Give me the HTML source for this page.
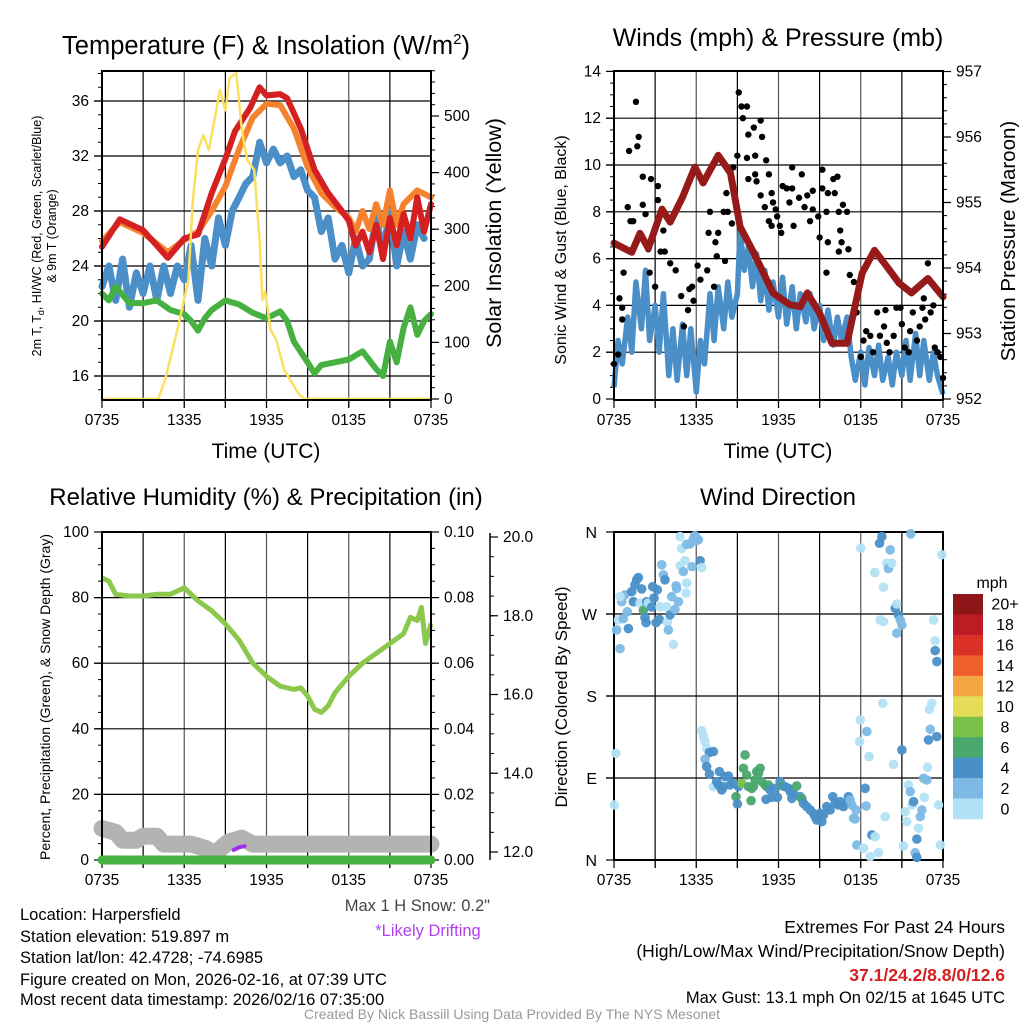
<!DOCTYPE html>
<html><head><meta charset="utf-8"><style>
html,body{margin:0;padding:0;background:#fff;}
svg{display:block;font-family:"Liberation Sans",Arial,sans-serif;}
</style></head><body>
<svg id="root" width="1024" height="1024" viewBox="0 0 1024 1024" xmlns="http://www.w3.org/2000/svg">
<rect width="1024" height="1024" fill="#fff"/>
<g id="layer"></g>
<text x="266" y="54" font-size="25.5" text-anchor="middle">Temperature (F) &amp; Insolation (W/m<tspan font-size="15" dy="-10">2</tspan><tspan dy="10">)</tspan></text>
<text x="778" y="46" font-size="25" text-anchor="middle">Winds (mph) &amp; Pressure (mb)</text>
<text x="266" y="505" font-size="24" text-anchor="middle">Relative Humidity (%) &amp; Precipitation (in)</text>
<text x="778" y="505" font-size="24" text-anchor="middle">Wind Direction</text>
<text x="266" y="458" font-size="21" text-anchor="middle">Time (UTC)</text>
<text x="778" y="458" font-size="21" text-anchor="middle">Time (UTC)</text>
<g font-size="12.5" text-anchor="middle">
<text transform="translate(41,236) rotate(-90)">2m T, T<tspan font-size="9" dy="3">d</tspan><tspan dy="-3">, HI/WC (Red, Green, Scarlet/Blue)</tspan></text>
<text transform="translate(56,236) rotate(-90)">&amp; 9m T (Orange)</text>
</g>
<text transform="translate(501,233) rotate(-90)" font-size="21.5" text-anchor="middle">Solar Insolation (Yellow)</text>
<text transform="translate(566,250) rotate(-90)" font-size="16" text-anchor="middle">Sonic Wind &amp; Gust (Blue, Black)</text>
<text transform="translate(1015,241) rotate(-90)" font-size="20.5" text-anchor="middle">Station Pressure (Maroon)</text>
<text transform="translate(50,697) rotate(-90)" font-size="14" text-anchor="middle">Percent, Precipitation (Green), &amp; Snow Depth (Gray)</text>
<text transform="translate(567,697) rotate(-90)" font-size="17" text-anchor="middle">Direction (Colored By Speed)</text>
<text x="490" y="911" font-size="16.5" fill="#444" text-anchor="end">Max 1 H Snow: 0.2"</text>
<text x="428" y="936" font-size="16.5" fill="#b040f0" text-anchor="middle">*Likely Drifting</text>
<g font-size="16.5">
<text x="20" y="920">Location: Harpersfield</text>
<text x="20" y="942">Station elevation: 519.897 m</text>
<text x="20" y="963">Station lat/lon: 42.4728; -74.6985</text>
<text x="20" y="985">Figure created on Mon, 2026-02-16, at 07:39 UTC</text>
<text x="20" y="1005">Most recent data timestamp: 2026/02/16 07:35:00</text>
</g>
<g font-size="17.5" text-anchor="end">
<text x="1005" y="933">Extremes For Past 24 Hours</text>
<text x="1005" y="957">(High/Low/Max Wind/Precipitation/Snow Depth)</text>
<text x="1005" y="981" fill="#d42020" font-weight="bold">37.1/24.2/8.8/0/12.6</text>
<text x="1005" y="1003" font-size="16.5">Max Gust: 13.1 mph On 02/15 at 1645 UTC</text>
</g>
<text x="512" y="1019" font-size="14" fill="#999" text-anchor="middle">Created By Nick Bassill Using Data Provided By The NYS Mesonet</text>
<text x="992" y="588" font-size="16" text-anchor="middle">mph</text>
</svg>
<script>
// ---------- data ----------
const xTickHours = [0,6,12,18,24];
const xTickLabels = ["0735","1335","1935","0135","0735"];
// Panel 1
const tempRed = [[0,25.4],[1.3,27.4],[3,26.6],[4.8,24.6],[6,26],[7,26.3],[8,29.3],[9,31.8],[9.7,33.8],[10.8,35.5],[11.5,37],[12,36.4],[13,36.5],[13.5,36.2],[14.5,34],[15.5,31],[16.5,29.3],[17.5,28],[18,27.3],[18.5,25.5],[19,26.5],[19.5,25],[20,27],[20.5,24.5],[21,27.5],[21.5,25.5],[22,27.8],[22.5,26],[23,29],[23.5,26.5],[24,28.5]];
const tempOrange = [[0,25.8],[1.3,27.2],[3,26.4],[4.8,25],[6,25.9],[7,26.5],[8,28],[9,29.8],[10,32.5],[11,34.8],[12,35.8],[13,35.7],[14,34],[15,31.2],[16,29.3],[17,28.3],[18,27.5],[18.5,26.5],[19,28],[19.5,26.7],[20,28.5],[20.5,27],[21,29.5],[21.5,27],[22,28.5],[23,29.5],[24,29]];
const tempBlue = [[0,22.5],[0.5,24],[1,21.5],[1.5,24.5],[2,21],[2.5,23.5],[3,22],[3.5,24],[4,21.5],[4.5,24],[5,22],[5.5,24],[6,23],[6.5,25.5],[7,21.5],[7.5,26],[8,24],[8.5,27.5],[9,25.5],[9.5,28],[10,29],[10.5,30],[11,30.5],[11.5,33],[12,31.5],[12.5,32.5],[13,31.5],[13.5,32],[14,30.5],[14.5,31],[15,29.5],[15.5,29],[16,26.5],[16.5,27.5],[17,24.5],[17.5,25.5],[18,23.5],[18.5,26],[19,24],[19.5,24.5],[20,27.5],[20.5,25],[21,28],[21.5,24],[22,26.5],[22.5,24.5],[23,27],[23.5,26]];
const tempGreen = [[0,22],[0.5,21.5],[1,22.5],[2,21.3],[3,21.3],[4,21.5],[5,20.8],[6,20.5],[6.5,20],[7,19.3],[7.5,20.2],[8,20.8],[9,21.5],[10,21.2],[11,20.6],[12,20.2],[13,20.7],[13.5,20],[14,18.5],[15,17],[15.5,16.2],[16,16.8],[17,17],[18,17.2],[19,17.8],[20,16.5],[20.5,16],[21,18.5],[21.5,17],[22,19.5],[22.5,21],[23,19],[23.5,20],[24,20.5]];
const solar = [[0,0],[4.1,0],[4.6,34],[5.5,122],[6.3,210],[6.6,343],[7,440],[7.4,466],[7.8,440],[8.2,493],[8.6,546],[9,510],[9.3,567],[9.8,576],[10.2,475],[10.6,422],[11.1,405],[11.5,281],[11.7,175],[11.9,190],[12.3,122],[12.7,105],[13.3,51],[14.4,7],[14.8,0],[24,0]];
// Panel 2
const pressure = [[0,954.38],[1.3,954.24],[1.9,954.53],[2.5,954.3],[3.5,954.9],[4.1,954.7],[5,955.08],[5.9,955.54],[6.5,955.3],[7.6,955.72],[8.5,955.45],[9.2,954.63],[10.2,954.23],[11.6,953.62],[12.8,953.44],[13.6,953.41],[14.1,953.62],[15,953.31],[15.9,952.85],[17,952.85],[18.1,953.92],[19,954.27],[19.8,954.05],[20.8,953.77],[21.7,953.62],[22.9,953.84],[24,953.56]];
const windSpeed = [[0,0.5],[0.3,2.5],[0.6,1.5],[1,3.5],[1.3,2],[1.6,5],[2,3],[2.3,5.5],[2.6,2.5],[3,4],[3.3,2],[3.6,4.5],[4,1],[4.3,3],[4.6,0.8],[5,3.2],[5.3,1],[5.6,3],[6,0.3],[6.3,2.5],[6.6,1.5],[7,4.5],[7.3,2.5],[7.6,4.8],[8,3],[8.3,5],[8.6,3.5],[9,4.5],[9.2,7.2],[9.5,5.5],[9.8,6.5],[10.1,4.8],[10.4,6.2],[10.7,4.2],[11,5.5],[11.3,3.8],[11.6,5],[12,3.5],[12.3,5.2],[12.6,3.2],[13,4.8],[13.3,3],[13.6,4.5],[14,3.3],[14.3,4.5],[14.6,3],[15,4],[15.3,2.5],[15.6,3.8],[16,2.3],[16.3,3.5],[16.6,2.5],[17,3.5],[17.3,1.8],[17.6,0.8],[18,2],[18.3,0.6],[18.6,2.2],[19,1],[19.3,2.3],[19.6,0.8],[20,1.8],[20.3,0.6],[20.6,2],[21,1],[21.3,2.5],[21.6,0.8],[22,2.8],[22.3,1],[22.6,2.5],[23,0.8],[23.3,2],[23.6,1],[24,0.2]];
const gustHours = [0,0.3,0.4,0.6,0.6,0.7,1.0,1.2,1.4,1.1,1.7,1.8,1.6,2.1,2.1,2.3,2.5,2.6,2.7,3.2,3.2,3.4,3.7,3.6,3.0,4.1,4.5,4.9,5.1,5.4,5.5,5.7,5.8,6.1,6.3,6.8,6.9,7.0,7.3,7.4,7.5,7.6,8.0,8.1,8.2,8.3,8.6,8.7,9.0,9.1,9.3,9.7,9.4,9.8,10.2,10.7,10.8,9.7,10.3,9.8,10.3,10.4,11.1,10.7,11.3,11.0,11.5,11.6,11.8,11.3,11.5,11.9,12.1,12.3,12.2,12.6,12.8,13.0,13.0,13.1,13.5,13.7,13.9,14.1,14.3,14.5,14.5,14.9,15.0,15.2,15.2,15.5,15.6,16.0,16.1,16.3,16.4,16.5,16.7,17.0,16.6,17.1,16.4,15.6,15.5,17.2,17.5,17.7,18.0,18.2,18.4,18.7,18.9,19.2,19.4,19.7,19.8,19.9,20.1,20.4,20.6,20.9,21.0,21.2,21.5,21.6,21.8,22.1,22.3,22.5,22.7,22.9,23.1,23.3,23.4,23.6,23.8,24.0,22.6];
const gustValues = [1.5,1.9,4.3,3.9,3.4,5.4,8.2,7.6,7.6,10.6,10.8,11.2,12.7,8.3,9.5,7.9,6.4,5.4,9.4,9.1,8.5,6.3,6.3,7.2,4.8,5.8,5.5,4.4,3.1,3.8,4.7,4.8,4.2,5.7,5.1,5.5,7.1,8.0,4.8,6.7,6.1,7.1,8.0,5.9,8.8,8.0,7.5,9.9,10.4,13.1,12.5,12.5,12.0,11.3,11.6,11.9,11.2,10.3,10.4,9.4,9.6,9.3,10.2,8.7,9.6,8.2,8.8,8.4,8.1,7.6,7.4,7.8,7.4,9.1,7.1,9.0,8.4,9.9,9.0,7.4,8.6,9.6,8.2,8.7,7.6,8.1,8.9,7.8,6.9,9.0,9.8,8.0,8.8,9.4,8.8,9.5,8.0,7.2,8.3,8.0,6.7,6.4,6.3,6.7,5.4,5.3,5.0,3.7,1.8,2.5,2.9,2.7,2.0,3.7,2.7,3.1,3.8,2.4,2.0,2.7,3.9,3.9,3.2,2.2,2.0,2.9,3.7,2.5,3.1,3.9,3.4,5.8,3.7,4.0,2.2,2.0,1.8,0.9,4.3];
// Panel 3
const rhValues = [[0,86],[0.5,85],[1,81],[2,80.5],[3,80.5],[4,81],[5,81],[5.5,82],[6,83],[6.5,81],[7,79],[8,76],[9,72],[10,67],[11,60],[12,56],[13,53],[14,52],[14.5,52.5],[15,50],[15.5,46],[16,45],[16.5,47],[17,51],[18,56],[19,60],[20,63],[21,66],[22,69],[22.5,74],[23,73],[23.3,77],[23.6,66],[24,72]];
const precipValues = [[0,0],[24,0]];
const snowDepth = [[0,12.6],[1,12.5],[1.5,12.3],[2.5,12.3],[3,12.4],[4,12.4],[4.5,12.2],[5.5,12.2],[6.5,12.2],[7.5,12.1],[8.3,11.95],[8.7,12.1],[9.2,12.25],[10.2,12.35],[11,12.2],[24,12.2]];
const driftSnow = [[9.6,12.05],[10.0,12.12],[10.4,12.15]];
// Panel 4
const dirHours = [0.19,0.44,0.32,0.68,0.56,0.8,0.44,1.05,0.97,1.29,1.41,1.53,1.65,1.78,1.9,2.02,2.14,2.26,2.34,2.38,2.5,2.75,2.82,2.92,3.07,3.16,3.31,3.36,3.48,3.6,3.72,3.84,3.89,3.97,4.09,4.21,4.33,4.45,4.53,4.57,4.7,4.82,4.94,5.06,5.18,5.3,5.26,5.3,5.55,5.69,5.79,5.91,5.99,6.16,6.28,6.4,4.82,0.15,0.02,
6.4,6.52,6.64,6.76,6.96,7.25,6.64,6.76,6.96,7.25,7.49,7.62,7.69,7.86,7.98,8.1,8.35,8.47,8.71,8.9,9.0,9.08,9.32,9.44,9.56,9.68,9.81,10.05,10.0,10.17,10.29,10.41,10.54,10.66,10.78,11.02,11.14,11.27,11.09,11.39,11.51,11.75,11.92,12.12,12.31,12.48,12.73,12.85,12.97,13.09,13.33,13.58,13.7,13.82,14.06,14.31,14.55,14.67,14.79,14.91,15.04,15.16,15.28,15.52,15.77,15.96,16.13,16.37,16.5,16.74,16.98,17.1,17.23,17.35,17.47,17.59,17.66,
17.71,17.96,18.0,17.91,18.2,18.32,18.39,18.44,18.61,18.69,18.81,19.05,19.03,19.29,19.37,19.54,19.61,19.66,19.78,19.9,20.02,20.15,20.27,19.42,19.66,20.39,20.51,20.63,20.75,20.88,21.0,20.63,21.0,21.12,21.24,21.36,21.48,21.61,21.65,21.73,21.85,21.97,22.09,22.09,22.21,22.34,22.46,22.58,22.63,22.82,22.87,22.94,23.07,23.02,23.19,23.31,23.43,23.43,23.55,23.55,23.67,23.8,23.92];
const dirDegrees = [252.5,232,263.5,265,283.5,291,289,254,272.5,294.5,283.5,302,307.5,310,282,297.5,274,266,260.5,283.5,282,277.5,300,287.5,260.5,296.5,264,278,324,313,307.5,278,261,252.5,269,289,236.5,275,301,298,283.5,323,342,316.5,328.5,304,293,346.5,347,322,353,356,350.5,351.5,328.5,321,355,117,60.4,
142,136,130,122.6,118,119,110.5,102.5,94.4,80.5,86,82.4,97,76.9,80.5,91.5,92.2,82.4,84.2,69.5,61.5,80.5,84.2,100.7,115.3,93.3,80.5,78.7,65.1,80.5,87.8,97,95.2,100.7,86,82.4,80.5,82.4,66.6,76.9,68.8,78.7,68.8,86,81.3,80.5,78.7,75,67.7,73.2,81.3,69.5,67.3,62.2,58.6,54.9,51.2,47.6,43.9,45.8,51.2,42.1,49.4,58.6,54.9,69.5,62.2,60.4,64,58.6,62.2,69.5,65.9,60.4,45.8,45,54.9,
16.5,153.7,342.2,130,12.8,78.7,59.3,141,113.5,3.7,27.5,25.6,315.5,8,347.7,355,172,299.4,47.6,325.7,320,340.4,325.7,263.5,261.7,105,276.3,281,269,263.5,258,249,120.8,15.4,53,42,82.4,75,358,60.4,64,8,2.9,23,34.8,47.6,54.9,89.7,68.8,87.8,101.7,131.8,143.5,165.4,172,263.5,240.5,229.8,135.4,217.8,60.4,16.5,335];
const dirSpeeds = [3,3,1,3,3,3,1,5,3,5,5,5,5,5,1,5,7,5,5,5,1,5,5,5,5,5,5,1,3,3,5,1,1,3,5,3,1,3,3,3,3,1,1,3,1,1,1,3,3,3,3,3,3,3,5,1,1,1,1,
1,1,1,1,5,5,3,5,5,1,5,5,5,5,5,5,5,5,5,7,5,5,9,7,7,7,7,7,7,7,7,7,7,7,7,7,7,7,5,5,5,5,5,5,7,5,5,5,5,5,7,5,7,5,5,5,5,5,5,5,5,5,5,5,5,5,5,5,5,5,5,5,3,3,3,3,3,3,
1,1,1,1,5,3,3,1,1,5,1,1,1,5,5,1,1,1,1,3,3,1,1,1,1,5,1,5,3,3,3,5,1,1,1,1,3,3,1,5,3,5,5,1,3,3,3,1,3,1,5,3,1,1,1,1,5,5,5,1,1,1,1];
const cbLabels = ["20+","18","16","14","12","10","8","6","4","2","0"];
const cbColors = ["#8e1518","#bd1c24","#dc3127","#ef5f2c","#f5a745","#e5dd5a","#7cc24a","#4aa86e","#4a90c8","#7db9e4","#b3e1f7"];

// ---------- drawing ----------
const NS="http://www.w3.org/2000/svg";
const layer=document.getElementById('layer');
function el(tag,attrs,parent){const e=document.createElementNS(NS,tag);for(const k in attrs)e.setAttribute(k,attrs[k]);(parent||layer).appendChild(e);return e;}
function scale(d0,d1,r0,r1){return v=>r0+(v-d0)*(r1-r0)/(d1-d0);}
function pathOf(data,sx,sy){return data.map((p,i)=>(i?'L':'M')+sx(p[0]).toFixed(1)+' '+sy(p[1]).toFixed(1)).join(' ');}
function speedColor(s){return cbColors[10-Math.min(10,Math.floor(s/2))];}

const panels=[{x0:102,x1:431,y0:71,y1:400,n:'temperature'},{x0:614,x1:943,y0:71,y1:400,n:'winds'},{x0:102,x1:431,y0:532,y1:860,n:'humidity'},{x0:614,x1:943,y0:532,y1:860,n:'wind-direction'}];

function drawFrame(P,hGrid,sy){
  const g=el('g',{});
  
  
  const sx=scale(0,24,P.x0,P.x1);
  for(let h=3;h<24;h+=3){el('line',{x1:sx(h),x2:sx(h),y1:P.y0,y2:P.y1+8,stroke:(h%6?'#000':'#555'),'stroke-width':1.2},g);}
  hGrid.forEach(v=>el('line',{x1:P.x0-8,x2:P.x1,y1:sy(v),y2:sy(v),stroke:'#000','stroke-width':1.2},g));
  for(let h=0;h<=24;h+=3){el('line',{x1:sx(h),x2:sx(h),y1:P.y1,y2:P.y1+8,stroke:'#000','stroke-width':1.2},g);}
  const lg=el('g',{'font-size':15.5,'text-anchor':'middle'});
  
  
  xTickHours.forEach((h,i)=>{const t=el('text',{x:sx(h),y:P.y1+25},lg);t.textContent=xTickLabels[i];});
  return sx;
}
function frameBox(P){
  const r=el('rect',{x:P.x0,y:P.y0,width:P.x1-P.x0,height:P.y1-P.y0,fill:'none',stroke:'#000','stroke-width':2});
  
  
}
function yAxis(x,sy,majors,minors,labelFn,side,name){
  const g=el('g',{'font-size':15.5,'text-anchor':side<0?'end':'start'});
  
  
  minors.forEach(v=>el('line',{x1:x,x2:x+side*4,y1:sy(v),y2:sy(v),stroke:'#000','stroke-width':1},g));
  majors.forEach(v=>{el('line',{x1:x,x2:x+side*8,y1:sy(v),y2:sy(v),stroke:'#000','stroke-width':1.2},g);
    const t=el('text',{x:x+side*13,y:sy(v)+5},g);t.textContent=labelFn(v);});
  return g;
}
function range(a,b,s){const r=[];for(let v=a;v<=b+1e-9;v+=s)r.push(+v.toFixed(4));return r;}

// Panel 1
{const P=panels[0];const sy=scale(16,36,376,101);const ss=scale(0,500,399,116);
 const sx=drawFrame(P,[16,20,24,28,32,36],sy);
 yAxis(P.x0,sy,[16,20,24,28,32,36],range(15,38,1),v=>v,-1,'temperature-left-axis');
 yAxis(P.x1,ss,[0,100,200,300,400,500],range(0,580,20),v=>v,1,'solar-right-axis');
 const series=[[tempBlue,'#4b8fc9',7,'dewpoint-line'],[tempGreen,'#46b041',6,'windchill-line'],[tempOrange,'#f5822f',6,'temp-9m-line'],[tempRed,'#d42020',6,'temp-2m-line']];
 series.forEach(s=>{const p=el('path',{d:pathOf(s[0],sx,sy),fill:'none',stroke:s[1],'stroke-width':s[2],'stroke-linejoin':'round','stroke-linecap':'round'});
   
   });
 const y=el('path',{d:pathOf(solar,sx,ss),fill:'none',stroke:'#fbe060','stroke-width':2.5,'stroke-linejoin':'round'});
 
 
 frameBox(P);}
// Panel 2
{const P=panels[1];const sy=scale(0,14,399,71.4);const sp=scale(952,957,399,71.5);
 const sx=drawFrame(P,[2,4,6,8,10,12],sy);
 yAxis(P.x0,sy,range(0,14,2),range(0,14,0.5),v=>v,-1,'wind-left-axis');
 yAxis(P.x1,sp,range(952,957,1),range(952,957,0.2),v=>v,1,'pressure-right-axis');
 const w=el('path',{d:pathOf(windSpeed,sx,sy),fill:'none',stroke:'#4b8fc9','stroke-width':5.5,'stroke-linejoin':'round'});
 
 
 const gg=el('g',{});
 
 
 gustHours.forEach((h,i)=>el('circle',{cx:sx(h),cy:sy(gustValues[i]),r:3.2,fill:'#000'},gg));
 const p=el('path',{d:pathOf(pressure,sx,sp),fill:'none',stroke:'#961a1a','stroke-width':7,'stroke-linejoin':'round','stroke-linecap':'round'});
 
 
 frameBox(P);}
// Panel 3
{const P=panels[2];const sy=scale(0,100,860,532);const spc=scale(0,0.1,860,532);const ssn=scale(12,20,852,537);
 const sx=drawFrame(P,[20,40,60,80],sy);
 yAxis(P.x0,sy,range(0,100,20),range(0,100,5),v=>v,-1,'humidity-left-axis');
 yAxis(P.x1,spc,range(0,0.1,0.02),range(0,0.1,0.005),v=>v.toFixed(2),1,'precip-right-axis');
 const ax=el('line',{x1:490,x2:490,y1:533,y2:860,stroke:'#000','stroke-width':1.5});
 
 
 yAxis(490,ssn,range(12,20,2),range(12,20,0.5),v=>v.toFixed(1),1,'snow-depth-axis');
 const g=el('path',{d:pathOf(snowDepth,sx,ssn),fill:'none',stroke:'#b3b3b3','stroke-width':17,'stroke-linejoin':'round','stroke-linecap':'round'});
 
 
 const d=el('path',{d:pathOf(driftSnow,sx,ssn),fill:'none',stroke:'#a030f0','stroke-width':4,'stroke-linecap':'round'});
 
 
 const r=el('path',{d:pathOf(rhValues,sx,sy),fill:'none',stroke:'#8cc84b','stroke-width':5,'stroke-linejoin':'round'});
 
 
 frameBox(P);
 const pr=el('path',{d:pathOf(precipValues,sx,spc),fill:'none',stroke:'#46b041','stroke-width':9,'stroke-linecap':'round'});
 
 }
// Panel 4
{const P=panels[3];const sy=scale(0,360,860,532);
 const sx=drawFrame(P,[90,180,270],sy);
 const lab=el('g',{'font-size':16,'text-anchor':'end'});
 
 
 [[0,'N'],[90,'E'],[180,'S'],[270,'W'],[360,'N']].forEach(a=>{el('line',{x1:P.x0-8,x2:P.x0,y1:sy(a[0]),y2:sy(a[0]),stroke:'#000','stroke-width':1.2},lab);const t=el('text',{x:P.x0-17,y:sy(a[0])+6},lab);t.textContent=a[1];});
 frameBox(P);
 const pg=el('g',{});
 
 
 dirHours.forEach((h,i)=>el('circle',{cx:sx(h),cy:sy(dirDegrees[i]),r:4.8,fill:speedColor(dirSpeeds[i]),'fill-opacity':0.95},pg));
 const cb=el('g',{'font-size':16,'text-anchor':'middle'});
 
 
 const bh=(819-594)/11;
 cbColors.forEach((c,i)=>{el('rect',{x:953,y:594+i*bh,width:30,height:bh+0.3,fill:c},cb);const t=el('text',{x:1005,y:594+i*bh+bh/2+5.5},cb);t.textContent=cbLabels[i];});}
</script>
</body></html>
